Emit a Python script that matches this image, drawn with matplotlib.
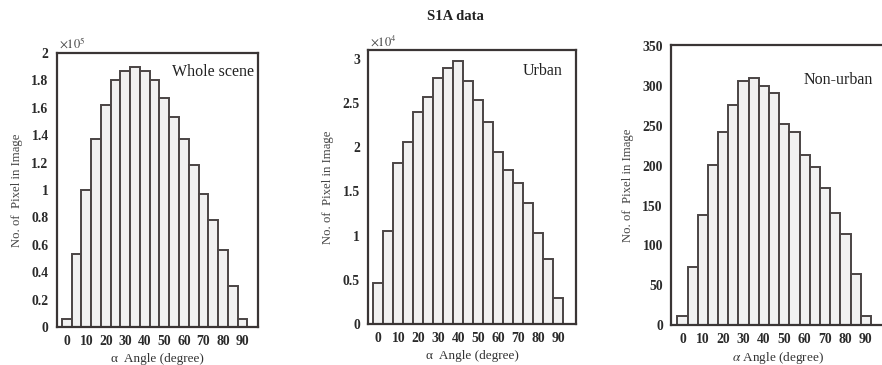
import matplotlib
matplotlib.use("Agg")
import matplotlib.pyplot as plt
from matplotlib.ticker import FuncFormatter

angles = [0, 5, 10, 15, 20, 25, 30, 35, 40, 45, 50, 55, 60, 65, 70, 75, 80, 85, 90]
whole_scene = [0.06, 0.535, 1.00, 1.37, 1.62, 1.80, 1.87, 1.90, 1.87, 1.80,
               1.67, 1.53, 1.37, 1.18, 0.97, 0.78, 0.56, 0.30, 0.06]   # x 1e5
urban = [0.46, 1.05, 1.82, 2.06, 2.40, 2.57, 2.78, 2.90, 2.98, 2.75,
         2.53, 2.29, 1.95, 1.74, 1.60, 1.37, 1.03, 0.74, 0.30]          # x 1e4
non_urban = [11, 73, 138, 201, 242, 277, 306, 310, 300, 292,
             252, 242, 214, 198, 172, 141, 114, 64, 11]
xticks = [0, 10, 20, 30, 40, 50, 60, 70, 80, 90]

plt.rcParams['font.family'] = ['Liberation Serif', 'DejaVu Serif']
plt.rcParams['mathtext.fontset'] = 'stix'

fig = plt.figure(figsize=(8.82, 3.65), dpi=100)

panels = [
    dict(rect=[0.0646, 0.104, 0.228, 0.751], data=whole_scene, xlim=(-5, 98),
         ylim=(0, 2.0), yticks=[0, 0.2, 0.4, 0.6, 0.8, 1, 1.2, 1.4, 1.6, 1.8, 2],
         label="Whole scene", lpos=(0.776, 0.93), exp=r"$\times10^5$",
         xlabel="α  Angle (degree)"),
    dict(rect=[0.4175, 0.112, 0.236, 0.751], data=urban, xlim=(-5, 99),
         ylim=(0, 3.1), yticks=[0, 0.5, 1, 1.5, 2, 2.5, 3],
         label="Urban", lpos=(0.836, 0.923), exp=r"$\times10^4$",
         xlabel="α  Angle (degree)"),
    dict(rect=[0.761, 0.110, 0.2415, 0.767], data=non_urban, xlim=(-5.5, 99),
         ylim=(0, 352), yticks=[0, 50, 100, 150, 200, 250, 300, 350],
         label="Non-urban", lpos=(0.784, 0.875), exp=None,
         xlabel=r"$\alpha$ Angle (degree)"),
]

for p in panels:
    ax = fig.add_axes(p["rect"])
    ax.bar(angles, p["data"], width=5, facecolor="#f1f1f1",
           edgecolor="#4a4444", linewidth=1.4)
    ax.set_xlim(*p["xlim"])
    ax.set_ylim(*p["ylim"])
    ax.set_xticks(xticks)
    ax.set_yticks(p["yticks"])
    ax.yaxis.set_major_formatter(FuncFormatter(lambda v, pos: f"{v:g}"))
    ax.tick_params(length=0, labelsize=9.8, pad=6, colors="#2a2a2a")
    for t in ax.get_xticklabels() + ax.get_yticklabels():
        t.set_fontweight("bold")
    for s in ax.spines.values():
        s.set_linewidth(1.6)
        s.set_color("#3a3535")
    ax.set_ylabel("No. of  Pixel in Image", fontsize=9.2, color="#444444", labelpad=6)
    ax.set_xlabel(p["xlabel"], fontsize=9.5, color="#333333", labelpad=3)
    ax.text(p["lpos"][0], p["lpos"][1], p["label"], transform=ax.transAxes,
            ha="center", va="center", fontsize=11.5, color="#222222",
            bbox=dict(facecolor="white", edgecolor="none", pad=1))
    if p["exp"]:
        ax.text(0.01, 1.005, p["exp"], transform=ax.transAxes, ha="left",
                va="bottom", fontsize=9, color="#444444")

fig.text(0.516, 0.955, "S1A data", ha="center", va="center", fontsize=10.5,
         fontweight="bold", color="#222222")

fig.savefig("out.png", dpi=100)
